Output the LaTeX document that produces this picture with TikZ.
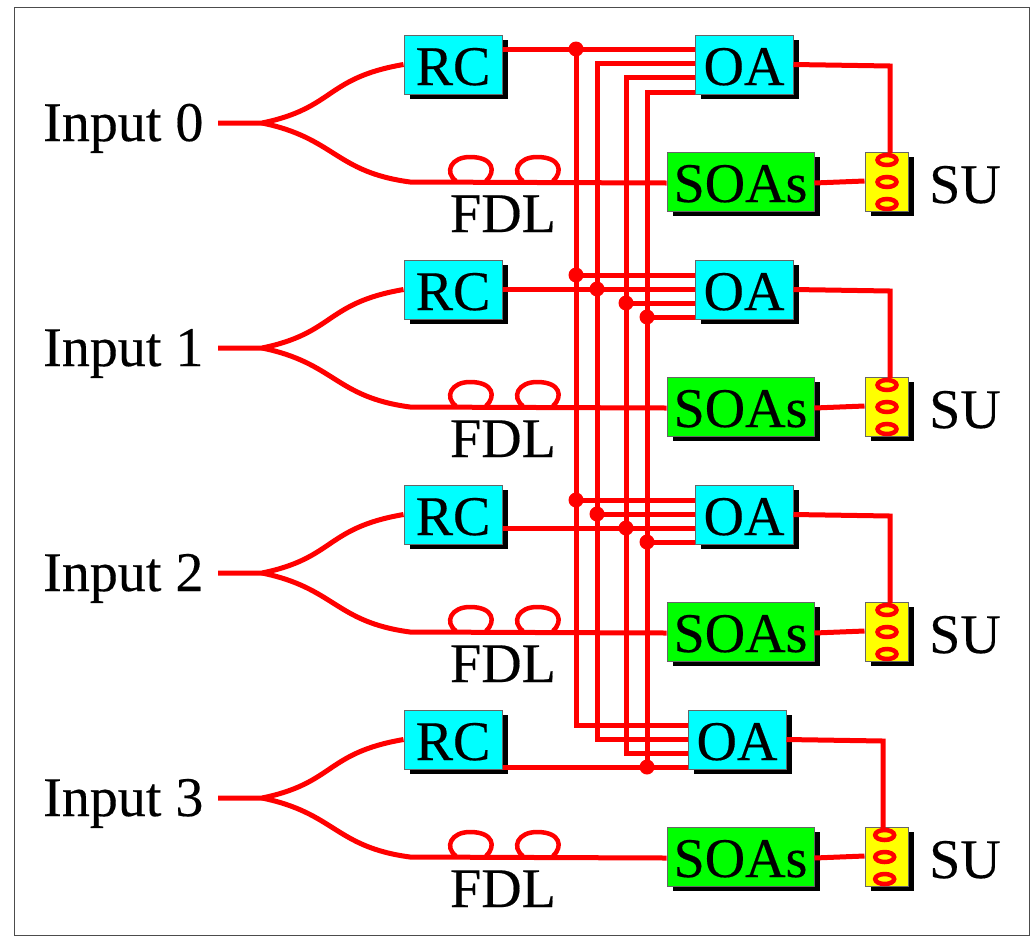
\documentclass[tikz,border=0pt]{standalone}
\usepackage{fontspec}
\setmainfont[FakeBold=0.3]{Liberation Serif}
\usetikzlibrary{shapes.geometric,shadows}
\definecolor{rc_cyan}{RGB}{0,255,255}
\definecolor{soa_green}{RGB}{0,255,0}
\definecolor{su_yellow}{RGB}{255,255,0}
\definecolor{fibre_red}{RGB}{255,0,0}

\begin{document}
\begin{tikzpicture}[x=1pt,y=-1pt,
	box_node/.style={rectangle,draw=black!60,line width=1pt,inner sep=0pt,minimum height=59pt,text height=41pt,text depth=0pt,font=\fontsize{56}{60}\selectfont,drop shadow={shadow xshift=6pt,shadow yshift=-5pt,fill=black,opacity=1}},
	rc_node/.style={box_node,fill=rc_cyan,minimum width=98pt},
	soa_node/.style={box_node,fill=soa_green,minimum width=147pt},
	su_node/.style={box_node,fill=su_yellow,minimum width=43pt},
	dot_node/.style={circle,fill=fibre_red,inner sep=0pt,minimum size=15pt},
	ring_node/.style={ellipse,draw=fibre_red,line width=4.5pt,inner sep=0pt,minimum width=19pt,minimum height=10pt},
	text_node/.style={inner sep=0pt,anchor=base west,font=\fontsize{56}{60}\selectfont},
	fibre/.style={draw=fibre_red,line width=5pt},
	fdl_loop/.style={draw=fibre_red,line width=4.5pt},
	wire/.style={draw=fibre_red,line width=5pt,line join=miter}]

	\useasboundingbox (0,0) rectangle (1032,937);
	\draw[black!70,line width=1pt] (14,7) rectangle (1029,935);

	\foreach \i/\yy/\dx in {0/0/0,1/225/0,2/450/0,3/675/-7}{
		\node[text_node] (in\i) at (43,141+\yy) {Input \i};
		\node[rc_node] (rc\i) at (453,64.5+\yy) {RC};
		\node[rc_node] (oa\i) at (744+\dx,64.5+\yy) {OA};
		\node[soa_node] (soa\i) at (740.5,181.5+\yy) {SOAs};
		\node[su_node] (su\i) at (886.5,181.5+\yy) {};
		\node[text_node] (sutext\i) at (929,203+\yy) {SU};
		\node[text_node,anchor=base] (fdl\i) at (503,232+\yy) {FDL};

		\coordinate (st\i) at (218,123+\yy);
		\coordinate (sp\i) at (262,123+\yy);
		\coordinate (dn\i) at (410,182+\yy);
		\draw[fibre] (st\i) -- (sp\i) .. controls (335,108+\yy) and (325,78+\yy) .. (rc\i.west);
		\draw[fibre] (sp\i) .. controls (335,138+\yy) and (335,172+\yy) .. (dn\i) -- ([yshift=-1.5pt]soa\i.west);
		\draw[fdl_loop] (456,181+\yy) .. controls (444,172+\yy) and (451,157+\yy) .. (470,157+\yy) .. controls (494,157+\yy) and (496,172+\yy) .. (486,181+\yy);
		\draw[fdl_loop] (523,181+\yy) .. controls (511,172+\yy) and (518,157+\yy) .. (537,157+\yy) .. controls (561,157+\yy) and (563,172+\yy) .. (553,181+\yy);

		\node[ring_node] (ra\i) at (887+\dx/3,160+\yy) {};
		\node[ring_node] (rb\i) at (887+\dx/3,182+\yy) {};
		\node[ring_node] (rc-\i) at (887+\dx/3,204+\yy) {};
		\coordinate (up\i) at (890+\dx,66+\yy);
		\draw[fibre] (oa\i.east) -- (up\i) -- (up\i |- ra\i.north);
		\draw[fibre] ([yshift=-1.5pt]soa\i.east) -- ([yshift=0.5pt]su\i.west);
	}

	\node[dot_node] (d00) at (576,49) {};
	\node[dot_node] (d10) at (576,275) {};
	\node[dot_node] (d11) at (597,289) {};
	\node[dot_node] (d12) at (626,303) {};
	\node[dot_node] (d13) at (647,317) {};
	\node[dot_node] (d20) at (576,500) {};
	\node[dot_node] (d21) at (597,514) {};
	\node[dot_node] (d22) at (626,528) {};
	\node[dot_node] (d23) at (647,542) {};
	\node[dot_node] (d33) at (647,767) {};

	\coordinate (c01) at (597,63);
	\coordinate (c02) at (626,77);
	\coordinate (c03) at (647,92);
	\coordinate (c30) at (576,725);
	\coordinate (c31) at (597,739);
	\coordinate (c32) at (626,753);

	% buses
	\draw[wire] (d00.center) -- (c30) -- (c30 -| oa3.west);
	\draw[wire] (c01 -| oa0.west) -- (c01) -- (c31) -- (c31 -| oa3.west);
	\draw[wire] (c02 -| oa0.west) -- (c02) -- (c32) -- (c32 -| oa3.west);
	\draw[wire] (c03 -| oa0.west) -- (c03) -- (d33.center);

	% inputs of the OAs
	\draw[wire] (rc0.east |- d00) -- (d00 -| oa0.west);
	\draw[wire] (d10.center) -- (d10 -| oa1.west);
	\draw[wire] (rc1.east |- d11) -- (d11 -| oa1.west);
	\draw[wire] (d12.center) -- (d12 -| oa1.west);
	\draw[wire] (d13.center) -- (d13 -| oa1.west);
	\draw[wire] (d20.center) -- (d20 -| oa2.west);
	\draw[wire] (d21.center) -- (d21 -| oa2.west);
	\draw[wire] (rc2.east |- d22) -- (d22 -| oa2.west);
	\draw[wire] (d23.center) -- (d23 -| oa2.west);
	\draw[wire] (rc3.east |- d33) -- (d33 -| oa3.west);
\end{tikzpicture}
\end{document}
